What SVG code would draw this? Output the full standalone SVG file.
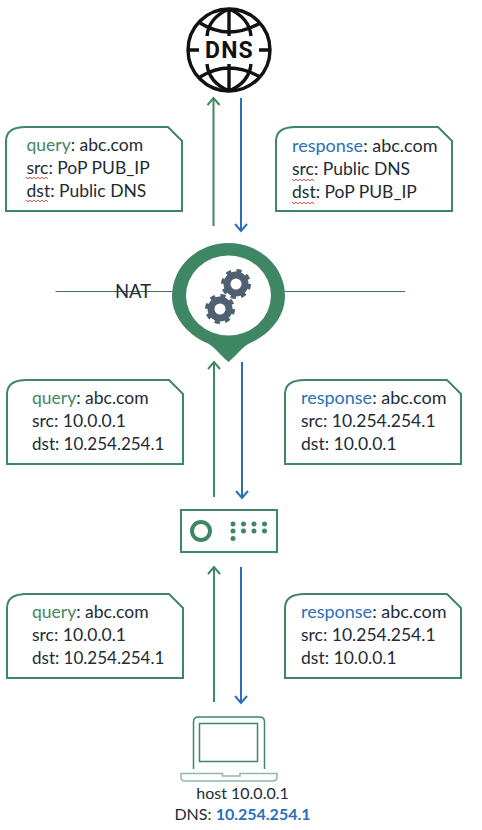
<svg xmlns="http://www.w3.org/2000/svg" xmlns:xlink="http://www.w3.org/1999/xlink" width="482" height="830" viewBox="0 0 482 830">
<style>
text{font-family:"Lato","Carlito","Liberation Sans",sans-serif;font-size:16px;fill:#222b35}
.t{font-size:17.500px}
.h{font-size:18px}
.s{font-size:17px}
.q{fill:#3f8764}.r{fill:#2a6fba}
.box{fill:#fff;stroke:#3f8764;stroke-width:2}
.g{stroke:#3f8764;stroke-width:2;fill:none}
.b{stroke:#2a6fba;stroke-width:2;fill:none}
.sq{fill:none;stroke:#e0403c;stroke-width:.9}
.k{fill:none;stroke:#111;stroke-width:3.4}
</style>
<defs>
<marker id="ag" markerWidth="16" markerHeight="14" refX="14" refY="7" orient="auto" markerUnits="userSpaceOnUse"><path d="M7,1L14,7L7,13" fill="none" stroke="#3f8764" stroke-width="2"/></marker>
<marker id="ab" markerWidth="16" markerHeight="14" refX="14" refY="7" orient="auto" markerUnits="userSpaceOnUse"><path d="M7,1L14,7L7,13" fill="none" stroke="#2a6fba" stroke-width="2"/></marker>
<path id="cb" class="box" d="M20,0H162L176,14V84H0V14Q0,0 20,0Z"/>
<path id="w" class="sq" d="M0,0l2,2l2,-2l2,2l2,-2l2,2l2,-2l2,2l2,-2l2,2l2,-2l2,2"/>
</defs>
<g id="connectors">
<path d="M55.500,291.500H172M285,291.500H405" stroke="#4d6b5e" stroke-width="1" fill="none"/>
<path class="g" d="M213.500,226V98" marker-end="url(#ag)"/>
<path class="b" d="M241,98V231" marker-end="url(#ab)"/>
<path class="g" d="M214,497V362" marker-end="url(#ag)"/>
<path class="b" d="M242,362V498" marker-end="url(#ab)"/>
<path class="g" d="M214,702V567" marker-end="url(#ag)"/>
<path class="b" d="M241,567V703" marker-end="url(#ab)"/>
</g>
<g id="dns">
<circle class="k" cx="229" cy="50" r="41"/>
<path class="k" d="M229,9V36M229,64V91M187,50H199M259,50H271M200,23Q229,41 260,23M200,77Q229,59 260,77M229,9C215,15 208,25 207,36M229,9C243,15 250,25 251,36M229,91C215,85 208,75 207,64M229,91C243,85 250,75 251,64"/>
<text x="229.500" y="58" text-anchor="middle" style="font-family:Roboto,sans-serif;font-weight:700;font-size:23px;letter-spacing:1.200px;fill:#111">DNS</text>
</g>
<g id="q1">
<use xlink:href="#cb" href="#cb" x="6" y="127"/>
<text class="t" x="26.500" y="151"><tspan class="q">query</tspan>: abc.com</text>
<text class="t" x="26.500" y="174">src: PoP PUB_IP</text>
<text class="t" x="26.500" y="197">dst: Public DNS</text>
<use xlink:href="#w" href="#w" x="26" y="177"/><use xlink:href="#w" href="#w" x="26" y="200"/>
</g>
<g id="r1">
<use xlink:href="#cb" href="#cb" x="276" y="127"/>
<text class="h" x="292" y="152"><tspan class="r">response</tspan>: abc.com</text>
<text class="t" x="292" y="175">src: Public DNS</text>
<text class="t" x="292" y="198">dst: PoP PUB_IP</text>
<use xlink:href="#w" href="#w" x="292" y="179"/><use xlink:href="#w" href="#w" x="292" y="202"/>
</g>
<g id="nat">
<path fill="#3f8764" fill-rule="evenodd" d="M172,296A56.500,53 0 0 1 285,296C285,320 265,337 250,343C243,346 236,356 228.500,362C221,356 214,346 207,343C192,337 172,320 172,296ZM186,295.500A42.500,40 0 0 0 271,295.500A42.500,40 0 0 0 186,295.500Z"/>
<g fill="none" stroke="#4f6072">
<circle cx="236" cy="284" r="9" stroke-width="7"/>
<circle cx="236" cy="284" r="13" stroke-width="4" stroke-dasharray="5.100 5.110"/>
<circle cx="220" cy="309" r="9" stroke-width="7"/>
<circle cx="220" cy="309" r="13" stroke-width="4" stroke-dasharray="5.100 5.110"/>
</g>
<text x="115" y="298" style="font-size:18.500px">NAT</text>
</g>
<g id="q2">
<use xlink:href="#cb" href="#cb" x="7" y="380"/>
<text class="t" x="32" y="404"><tspan class="q">query</tspan>: abc.com</text>
<text class="t" x="32" y="427">src: 10.0.0.1</text>
<text class="s" x="32" y="450">dst: 10.254.254.1</text>
</g>
<g id="r2">
<use xlink:href="#cb" href="#cb" x="285" y="380"/>
<text class="h" x="301" y="404"><tspan class="r">response</tspan>: abc.com</text>
<text class="t" x="301" y="427">src: 10.254.254.1</text>
<text class="t" x="301" y="450">dst: 10.0.0.1</text>
</g>
<g id="switch">
<rect x="181" y="510" width="96" height="42" fill="#fff" stroke="#3f8764" stroke-width="2"/>
<circle cx="201" cy="531" r="9" fill="none" stroke="#3f8764" stroke-width="4"/>
<g fill="#3f8764">
<circle cx="233" cy="524" r="2.500"/><circle cx="243.500" cy="524" r="2.500"/><circle cx="254" cy="524" r="2.500"/><circle cx="264.500" cy="524" r="2.500"/>
<circle cx="233" cy="531" r="2.500"/><circle cx="243.500" cy="531" r="2.500"/><circle cx="254" cy="531" r="2.500"/><circle cx="264.500" cy="531" r="2.500"/>
<circle cx="233" cy="538.500" r="2.500"/>
</g>
</g>
<g id="q3">
<use xlink:href="#cb" href="#cb" x="7" y="594"/>
<text class="t" x="32" y="618"><tspan class="q">query</tspan>: abc.com</text>
<text class="t" x="32" y="641">src: 10.0.0.1</text>
<text class="s" x="32" y="664">dst: 10.254.254.1</text>
</g>
<g id="r3">
<use xlink:href="#cb" href="#cb" x="285" y="594"/>
<text class="h" x="301" y="618"><tspan class="r">response</tspan>: abc.com</text>
<text class="t" x="301" y="641">src: 10.254.254.1</text>
<text class="t" x="301" y="664">dst: 10.0.0.1</text>
</g>
<g id="host">
<path d="M193.500,769V722Q193.500,717 198.500,717H259.500Q264.500,717 264.500,722V769" fill="none" stroke="#3f8764" stroke-width="1.500"/>
<rect x="199.500" y="723.500" width="58" height="38" fill="none" stroke="#3f8764" stroke-width="1.500"/>
<path d="M181,773.500H222.500V776H240V773.500H277V777Q277,781 273,781H185Q181,781 181,777Z" fill="none" stroke="#8fbba6" stroke-width="1.500"/>
<text x="242.500" y="799" text-anchor="middle">host 10.0.0.1</text>
<text x="242.500" y="820" text-anchor="middle">DNS: <tspan class="r" style="font-weight:700">10.254.254.1</tspan></text>
</g>
</svg>
